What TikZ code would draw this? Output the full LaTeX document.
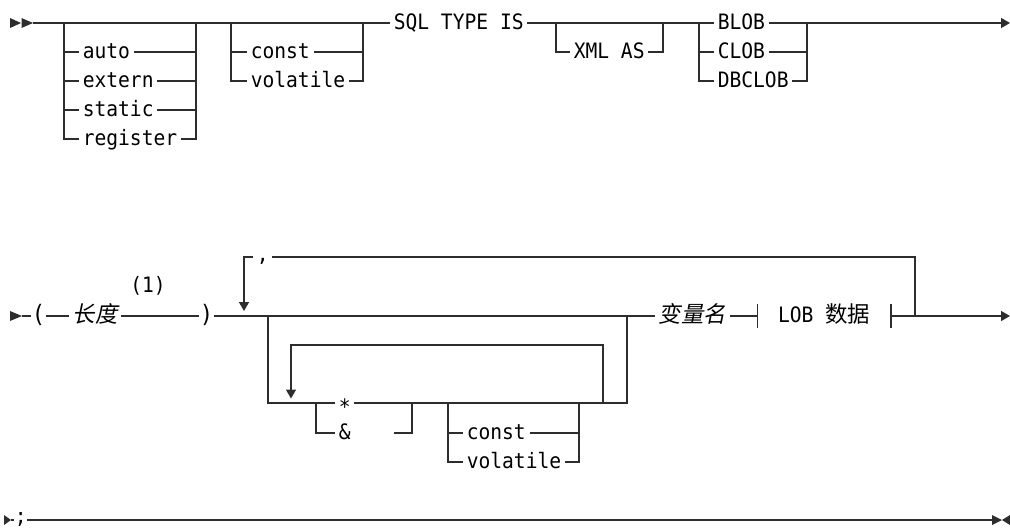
\documentclass[tikz,border=0pt]{standalone}
\usepackage{fontspec}
\usetikzlibrary{positioning}
\usetikzlibrary{arrows.meta}
\newfontfamily\railfont[FakeStretch=0.925]{DejaVu Sans Mono}
\newfontfamily\zhfont{Noto Sans CJK SC}
\newfontfamily\zhslant[FakeSlant=0.2]{Noto Sans CJK SC}
\newcommand{\zh}[1]{{\fontsize{11.2}{13}\selectfont\zhfont #1}}
\newcommand{\zhit}[1]{{\fontsize{11.2}{13}\selectfont\zhslant #1}}
\newcommand{\bigparen}[1]{{\fontsize{12}{14}\selectfont #1}}
\definecolor{rail}{RGB}{45,45,45}

\begin{document}
\begin{tikzpicture}[x=0.5pt,y=-0.5pt,line width=0.75pt,color=rail,
  kw/.style={anchor=west, inner xsep=1.5pt, inner ysep=0pt, text=black,
    text height=0.8em, text depth=0.2em, font=\fontsize{10.6}{12}\railfont},
  railtip/.style={-{Triangle[length=4.5pt,width=5pt]}},
  looptip/.style={-{Triangle[length=4.5pt,width=5pt]}}]

\useasboundingbox (0,0) rectangle (1010,527);

%---------------------------------------
% Rows
%---------------------------------------
\def\rowA{23}   % first line
\def\rowB{316}  % second line
\def\rowP{403}  % pointer branch
\def\rowC{520}  % last line
\def\gap{29}    % stacked choices

%====================================================
% ROW 1: storage class, qualifier, SQL TYPE IS
%====================================================
\fill (10,\rowA-5) -- (21,\rowA) -- (10,\rowA+5) -- cycle;
\fill (21.5,\rowA-5) -- (33,\rowA) -- (21.5,\rowA+5) -- cycle;
\coordinate (startA) at (33,\rowA);
\coordinate (endA) at (1010,\rowA);

% storage class
\coordinate (scL) at (64,\rowA);
\coordinate (scR) at (196,\rowA);
\node[kw] (auto)     at (79,\rowA+\gap)   {auto};
\node[kw] (extern)   at (79,\rowA+2*\gap) {extern};
\node[kw] (static)   at (79,\rowA+3*\gap) {static};
\node[kw] (register) at (79,\rowA+4*\gap) {register};
\draw (scL) |- (register.west);
\draw (register.east) -| (scR);
\foreach \n in {auto,extern,static} {
  \draw (scL |- \n.west) -- (\n.west);
  \draw (\n.east) -- (scR |- \n.east);
}

% qualifier
\coordinate (cvL) at (231,\rowA);
\coordinate (cvR) at (363,\rowA);
\node[kw] (const)    at (247,\rowA+\gap)   {const};
\node[kw] (volatile) at (247,\rowA+2*\gap) {volatile};
\draw (cvL) |- (volatile.west);
\draw (volatile.east) -| (cvR);
\draw (cvL |- const.west) -- (const.west);
\draw (const.east) -- (cvR |- const.east);

\node[kw] (sqltype) at (390,\rowA) {SQL TYPE IS};

% XML AS
\coordinate (xmL) at (556,\rowA);
\coordinate (xmR) at (663,\rowA);
\node[kw] (xmlas) at (570,\rowA+\gap) {XML AS};
\draw (xmL) |- (xmlas.west);
\draw (xmlas.east) -| (xmR);

% LOB type
\coordinate (lbL) at (699,\rowA);
\coordinate (lbR) at (807,\rowA);
\node[kw] (blob)   at (714,\rowA)        {BLOB};
\node[kw] (clob)   at (714,\rowA+\gap)   {CLOB};
\node[kw] (dbclob) at (714,\rowA+2*\gap) {DBCLOB};
\draw (lbL) |- (dbclob.west);
\draw (dbclob.east) -| (lbR);
\draw (lbL |- clob.west) -- (clob.west);
\draw (clob.east) -- (lbR |- clob.east);

% main line
\draw (startA) -- (sqltype.west);
\draw (sqltype.east) -- (blob.west);
\draw[railtip] (blob.east) -- (endA);

%====================================================
% ROW 2: length, pointers, variable name
%====================================================
\fill (10,\rowB-5) -- (22,\rowB) -- (10,\rowB+5) -- cycle;
\coordinate (startB) at (22,\rowB);
\coordinate (endB) at (1010,\rowB);

\node[kw, inner xsep=0pt] (lparen) at (31,\rowB)  {\bigparen{(}};
\node[kw] (len)    at (69,\rowB)  {\zhit{长度}};
\node[kw, inner xsep=0pt] (rparen) at (199,\rowB) {\bigparen{)}};
\node[kw, anchor=center] (note) at (148,286) {(1)};

\node[kw] (varname) at (655,\rowB) {\zhit{变量名}};
\node[kw, anchor=center, minimum width=66pt, inner ysep=0.8pt] (lobdata)
  at (824,\rowB) {LOB \zh{数据}};

\draw (startB) -- (lparen.west);
\draw (lparen.east) -- (len.west);
\draw (len.east) -- (rparen.west);
\draw (rparen.east) -- (varname.west);
\draw (varname.east) -- (lobdata.west);
\draw (lobdata.north west) -- (lobdata.south west);
\draw (lobdata.north east) -- (lobdata.south east);
\draw[railtip] (lobdata.east) -- (endB);

% ---- optional pointer branch ----
\coordinate (ptrL) at (268,\rowB);
\coordinate (ptrR) at (627,\rowB);
\node[kw] (star) at (335,\rowP) {\raisebox{-2.6pt}{*}};
\node[kw] (amp)  at (335,\rowP+30) {\&\hspace*{20pt}};
\draw (ptrL) |- (star.west);
\draw (star.east) -| (ptrR);

\coordinate (opL) at (316,\rowP);
\coordinate (opR) at (412,\rowP);
\draw (opL) |- (amp.west);
\draw (amp.east) -| (opR);

\coordinate (qlL) at (448,\rowP);
\coordinate (qlR) at (579,\rowP);
\node[kw] (constB)    at (463,\rowP+30) {const};
\node[kw] (volatileB) at (463,\rowP+59) {volatile};
\draw (qlL) |- (volatileB.west);
\draw (volatileB.east) -| (qlR);
\draw (qlL |- constB.west) -- (constB.west);
\draw (constB.east) -- (qlR |- constB.east);

% repeat of the pointer part
\coordinate (rptR) at (603,\rowP);
\coordinate (rptTip) at (291,\rowP-4.5);
\draw[looptip] (rptR) -- ++(0,-58) -| (rptTip);

% ---- repeat with comma ----
\coordinate (sepR) at (915,\rowB);
\coordinate (sepTip) at (244,\rowB-5);
\node[kw] (comma) at (253,257) {\raisebox{1pt}{,}};
\draw (sepR) |- (comma.east);
\draw[looptip] (comma.west) -| (sepTip);

%====================================================
% ROW 3: semicolon
%====================================================
\fill (4,\rowC-5) -- (11,\rowC) -- (4,\rowC+5) -- cycle;
\coordinate (startC) at (11,\rowC);
\coordinate (endC) at (992,\rowC);
\node[kw, inner xsep=0pt] (semi) at (14,\rowC) {\raisebox{1.2pt}{;}};
\draw (startC) -- (semi.west);
\draw (semi.east) -- (endC);
\fill (992,\rowC-5) -- (1002,\rowC) -- (992,\rowC+5) -- cycle;
\fill (1010,\rowC-5) -- (1002,\rowC) -- (1010,\rowC+5) -- cycle;

\end{tikzpicture}
\end{document}
